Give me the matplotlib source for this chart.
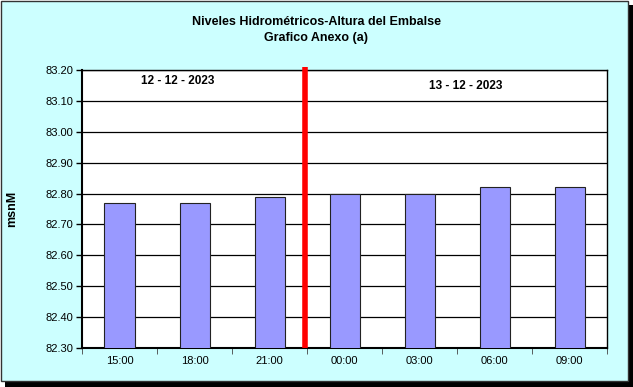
import matplotlib.pyplot as plt
from matplotlib.patches import Rectangle

horas = ["15:00", "18:00", "21:00", "00:00", "03:00", "06:00", "09:00"]
alturas = [82.77, 82.77, 82.79, 82.80, 82.80, 82.82, 82.82]
fecha1 = "12 - 12 - 2023"
fecha2 = "13 - 12 - 2023"
yticks = [82.30, 82.40, 82.50, 82.60, 82.70, 82.80, 82.90, 83.00, 83.10, 83.20]

plt.rcParams['font.family'] = ['Liberation Sans', 'DejaVu Sans']

W, H = 633, 387
fig = plt.figure(figsize=(W / 100, H / 100), dpi=100)
fig.patch.set_facecolor("white")

# fondo del grafico con sombra
fig.patches.append(Rectangle((5 / W, 0), 628 / W, 382 / H, transform=fig.transFigure,
                             facecolor="black", edgecolor="none", zorder=-2))
fig.patches.append(Rectangle((0.5 / W, 6 / H), 627 / W, 380 / H, transform=fig.transFigure,
                             facecolor="#ccffff", edgecolor="#333333", lw=1, zorder=-1))

ax = fig.add_axes([82 / W, (H - 348) / H, (607 - 82) / W, (348 - 70) / H])
ax.set_facecolor("white")
x = range(len(horas))
ax.bar(x, alturas, width=0.4, bottom=0, color="#9999ff", edgecolor="#222222", lw=0.8, zorder=3)
ax.set_xlim(-0.5, len(horas) - 0.5)
ax.set_ylim(82.30, 83.20)
ax.set_yticks(yticks)
ax.set_yticklabels(["%.2f" % v for v in yticks], fontsize=8)
ax.yaxis.grid(True, color="black", lw=0.9, zorder=1)
ax.set_axisbelow(True)
ax.set_xticks(list(x))
ax.set_xticklabels(horas, fontsize=8)
ax.tick_params(axis="x", length=0, pad=6)
ax.set_xticks([i + 0.5 for i in range(-1, len(horas))], minor=True)
ax.tick_params(axis="x", which="minor", length=4, color="#444444")
ax.tick_params(axis="y", length=4, width=1, pad=2)
for s in ax.spines.values():
    s.set_color("black")
    s.set_linewidth(1)
ax.spines["left"].set_linewidth(1.5)
ax.spines["bottom"].set_linewidth(1.5)
ax.set_ylabel("msnM", fontsize=9, fontweight="bold", labelpad=20)

# separacion de dias
ax.plot([2.47, 2.47], [82.30, 83.21], color="red", lw=4, zorder=5, clip_on=False,
        solid_capstyle="butt")
ax.text(0.77, 83.165, fecha1, fontsize=8.5, fontweight="bold", ha="center", va="center")
ax.text(4.61, 83.148, fecha2, fontsize=8.5, fontweight="bold", ha="center", va="center")

fig.text(0.5, 1 - 22 / H, "Niveles Hidrométricos-Altura del Embalse", ha="center",
         va="center", fontsize=9, fontweight="bold")
fig.text(0.5, 1 - 38 / H, "Grafico Anexo (a)", ha="center", va="center",
         fontsize=9, fontweight="bold")

fig.savefig("out.png", dpi=100)
